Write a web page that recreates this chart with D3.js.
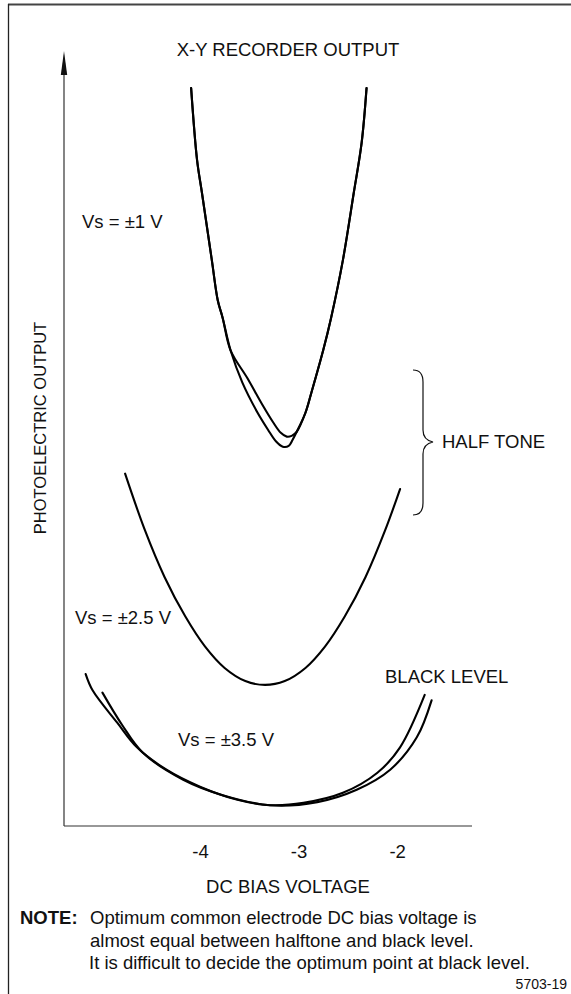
<!DOCTYPE html>
<html><head><meta charset="utf-8">
<script src="https://cdn.jsdelivr.net/npm/d3@7/dist/d3.min.js"></script>
<style>
body{margin:0;background:#fff}
svg{display:block}
text{font-family:"Liberation Sans",Arial,Helvetica,sans-serif;fill:#111}
</style>
</head><body>
<svg id="c" width="571" height="994"></svg>
<script>
// ---- data (x: DC bias voltage in V, y: photoelectric output, arbitrary units 0-100)
const xTicks = [-4, -3, -2];
const xTickLabels = ["-4", "-3", "-2"];

const vs1Lower = [[-4.09,95.7],[-4.03,86.4],[-3.98,82.1],[-3.88,73.4],[-3.82,68.2],[-3.77,65.9],[-3.69,61.7],
  [-3.57,57.5],[-3.42,53.7],[-3.31,51.4],[-3.23,49.9],[-3.16,49.2],[-3.10,49.3],[-3.06,50.1],[-3.02,51.1],
  [-2.93,53.6],[-2.87,56.2],[-2.75,61.7],[-2.67,65.9],[-2.55,73.4],[-2.44,82.1],[-2.36,88.6],[-2.31,95.7]];
const vs1Upper = [[-4.09,95.7],[-4.03,86.4],[-3.98,82.1],[-3.88,73.4],[-3.82,68.2],[-3.77,65.9],[-3.69,61.7],
  [-3.52,58.1],[-3.37,54.7],[-3.26,52.4],[-3.18,51.0],[-3.12,50.5],[-3.07,50.6],[-3.02,51.1],
  [-2.93,53.6],[-2.87,56.2],[-2.75,61.7],[-2.67,65.9],[-2.55,73.4],[-2.44,82.1],[-2.36,88.6],[-2.31,95.7]];
const vs25 = [[-4.76,45.7],[-4.56,38.4],[-4.36,32.3],[-4.15,27.2],[-3.95,23.3],[-3.75,20.5],[-3.54,18.8],
  [-3.34,18.3],[-3.14,18.8],[-2.93,20.5],[-2.73,23.3],[-2.53,27.2],[-2.32,32.3],[-2.12,38.4],[-1.97,43.7]];
const vs35a = [[-5.16,19.7],[-5.09,17.6],[-4.84,13.4],[-4.64,10.2],[-4.34,7.3],[-4.00,5.1],[-3.62,3.4],
  [-3.29,2.7],[-2.95,3.0],[-2.55,4.3],[-2.20,6.9],[-1.97,10.2],[-1.72,17.0]];
const vs35b = [[-4.99,17.3],[-4.79,13.1],[-4.58,9.5],[-4.17,6.0],[-3.77,4.0],[-3.29,2.7],[-2.81,3.1],
  [-2.41,4.7],[-2.07,7.3],[-1.80,11.5],[-1.65,16.3]];

const curves = [vs1Lower, vs1Upper, vs25, vs35a, vs35b];

// ---- layout
const svg = d3.select("#c");
const x = d3.scaleLinear().domain([-5.38, -1.24]).range([64, 472]);
const y = d3.scaleLinear().domain([0, 100]).range([826, 55]);

// frame
svg.append("line").attr("x1",8).attr("x2",571).attr("y1",4.5).attr("y2",4.5)
  .attr("stroke","#444").attr("stroke-width",2);
svg.append("line").attr("x1",8.5).attr("x2",8.5).attr("y1",4).attr("y2",994)
  .attr("stroke","#222").attr("stroke-width",1.3);

// axes
const x0 = x.range()[0];
svg.append("line").attr("x1",x0).attr("x2",x0)
  .attr("y1",y(0)).attr("y2",y(100)+8)
  .attr("stroke","#333").attr("stroke-width",1.2);
svg.append("path").attr("d",`M${x0-3.2},${y(100)+20} L${x0},${y(100)-4} L${x0+3.2},${y(100)+20} Z`)
  .attr("fill","#111");
svg.append("line").attr("x1",x0).attr("x2",x.range()[1])
  .attr("y1",y(0)).attr("y2",y(0))
  .attr("stroke","#333").attr("stroke-width",1.2);

const xAxis = d3.axisBottom(x).tickValues(xTicks).tickSize(0).tickPadding(0)
  .tickFormat((d,i)=>xTickLabels[i]);
const gx = svg.append("g").attr("transform",`translate(0,${y(0)+32})`).call(xAxis);
gx.select(".domain").remove();
gx.selectAll("text").attr("font-size",18.5).attr("dy","0").attr("fill","#111")
  .attr("font-family","'Liberation Sans',Arial,sans-serif");

// curves
const line = d3.line().x(d=>x(d[0])).y(d=>y(d[1])).curve(d3.curveCatmullRom.alpha(0.5));
svg.selectAll("path.curve").data(curves).join("path").attr("class","curve")
  .attr("d",line).attr("fill","none").attr("stroke","#000").attr("stroke-width",2.1)
  .attr("stroke-linecap","round");

// brace
svg.append("path")
  .attr("d","M413,370 Q423,370 423,382 L423,430 Q423,440 433,442 Q423,444 423,454 L423,503 Q423,515 413,515")
  .attr("fill","none").attr("stroke","#111").attr("stroke-width",1.2);

// texts
function txt(s, tx, ty, opts={}) {
  const t = svg.append("text").attr("x",tx).attr("y",ty).attr("dy","0.35em")
    .attr("font-size",opts.size||18.5).attr("text-anchor",opts.anchor||"start").text(s);
  if (opts.weight) t.attr("font-weight",opts.weight);
  return t;
}
txt("X-Y RECORDER OUTPUT", 288, 50, {anchor:"middle"});
txt("Vs = \u00b11 V", 82, 222);
txt("HALF TONE", 442, 442);
txt("Vs = \u00b12.5 V", 75, 618);
txt("BLACK LEVEL", 385, 677);
txt("Vs = \u00b13.5 V", 178, 740);
txt("DC BIAS VOLTAGE", 288, 887, {anchor:"middle"});
svg.append("text").attr("transform","translate(40,428) rotate(-90)").attr("dy","0.35em")
  .attr("text-anchor","middle").attr("font-size",16.5).text("PHOTOELECTRIC OUTPUT");
txt("NOTE:", 20, 918, {weight:"bold"});
txt("Optimum common electrode DC bias voltage is", 90, 918);
txt("almost equal between halftone and black level.", 90, 941);
txt("It is difficult to decide the optimum point at black level.", 89, 963);
txt("5703-19", 567, 984, {anchor:"end", size:14});
</script>
</body></html>
